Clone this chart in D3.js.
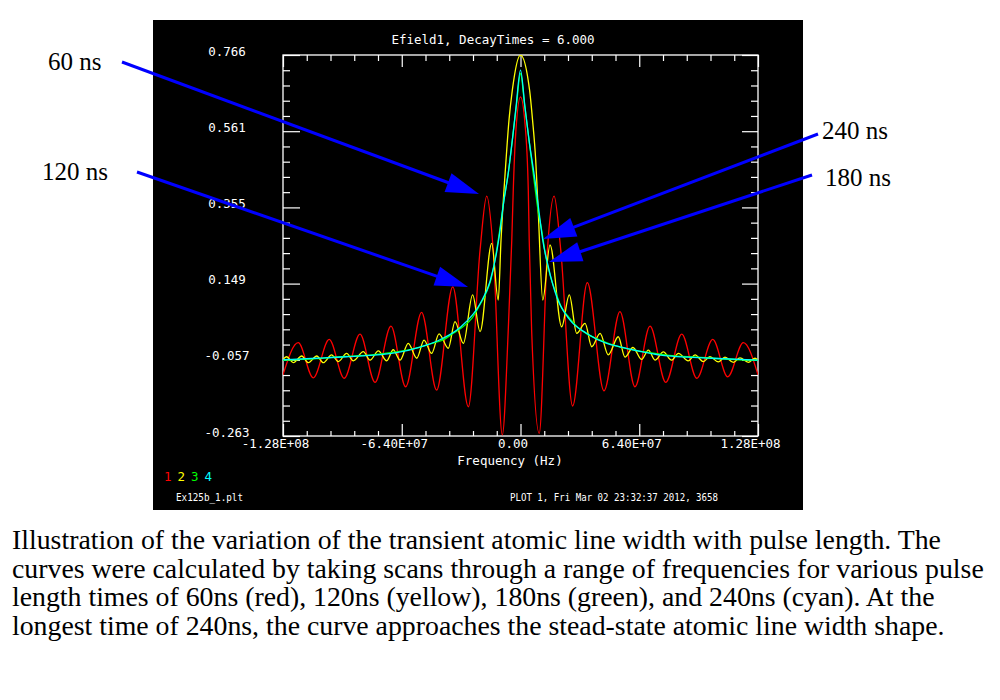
<!DOCTYPE html>
<html>
<head>
<meta charset="utf-8">
<script src="https://cdn.jsdelivr.net/npm/d3@7"></script>
<style>
  html, body { margin: 0; padding: 0; background: #ffffff; }
  svg { display: block; }
</style>
</head>
<body>
<svg id="chart" width="1000" height="700"></svg>
<script>
// ---------------- DATA ----------------
const chartTitle = "Efield1, DecayTimes = 6.000";
const xAxisTitle = "Frequency (Hz)";
const xTicks = [-1.28e8, -6.4e7, 0, 6.4e7, 1.28e8];
const xTickLabels = ["-1.28E+08", "-6.40E+07", "0.00", "6.40E+07", "1.28E+08"];
const yTicks = [0.766, 0.5602, 0.3544, 0.1486, -0.0572, -0.263];
const yTickLabels = ["0.766", "0.561", "0.355", "0.149", "-0.057", "-0.263"];
const legendLabels = ["1", "2", "3", "4"];
const seriesNames = ["60 ns", "120 ns", "180 ns", "240 ns"];
const seriesColors = ["#ff0000", "#ffff00", "#00ff00", "#00ffff"];
const footerLeft = "Ex125b_1.plt";
const footerRight = "PLOT 1, Fri Mar 02 23:32:37 2012, 3658";

// series 1: 60 ns (red) — frequency in MHz, field value
const redFreq = [-128.0, -119.8, -111.7, -103.1, -95.0, -86.5, -78.4, -69.8, -61.9, -53.3, -45.2, -36.5, -28.1,
  -21.8, -18.2, -14.7, -9.8, -6.6, -4.7, -3.9, -2.8, 0.0, 2.4, 4.2, 4.7, 6.0, 10.1,
  14.5, 18.1, 21.7, 28.1, 36.0, 45.0, 53.6, 61.7, 69.8, 78.3, 86.9, 95.0, 103.6, 111.7, 120.1, 128.0];
const redVal = [-0.098, -0.011, -0.106, -0.002, -0.107, 0.012, -0.118, 0.034, -0.130, 0.071, -0.139, 0.140, -0.184,
  0.239, 0.385, 0.239, -0.260, 0.023, 0.266, 0.401, 0.536, 0.653, 0.582, 0.401, 0.266, 0.023, -0.256,
  0.239, 0.385, 0.239, -0.182, 0.151, -0.141, 0.073, -0.130, 0.034, -0.118, 0.012, -0.107, -0.002, -0.103, -0.011, -0.098];

// series 2: 120 ns (yellow)
const yellowFreq = [-128.0, -126.0, -122.5, -117.9, -114.4, -109.8, -106.3, -101.8, -98.2, -93.7, -90.1, -84.7, -81.1,
  -76.6, -72.1, -68.6, -64.9, -60.5, -55.9, -52.0, -47.9, -43.9, -38.9, -35.3, -30.8, -25.8, -21.8, -15.5, -12.0,
  -10.5, -7.8, -6.2, -4.4, 0.0, 4.9, 6.5, 8.2, 9.6, 12.0, 15.9, 22.2, 26.3, 30.3, 34.8, 38.4, 42.9, 47.3, 52.7,
  56.3, 60.6, 65.3, 68.9, 72.5, 77.0, 81.4, 85.1, 90.4, 94.1, 98.5, 102.1, 106.6, 110.2, 114.7, 118.3, 122.8, 126.4, 128.0];
const yellowVal = [-0.056, -0.049, -0.065, -0.047, -0.065, -0.047, -0.065, -0.044, -0.062, -0.040, -0.060, -0.035, -0.058,
  -0.033, -0.060, -0.030, -0.058, -0.013, -0.053, -0.004, -0.040, 0.013, -0.026, 0.046, -0.013, 0.118, 0.019, 0.257, 0.104,
  0.266, 0.482, 0.590, 0.671, 0.766, 0.671, 0.590, 0.482, 0.338, 0.104, 0.253, 0.032, 0.118, 0.014, 0.041, -0.022, 0.014, -0.044, 0.005,
  -0.050, -0.024, -0.056, -0.031, -0.058, -0.036, -0.058, -0.040, -0.060, -0.044, -0.062, -0.049, -0.063, -0.050, -0.064, -0.052, -0.064, -0.053, -0.058];

// series 3: 180 ns (green)
const greenFreq = [-128, -110, -95, -80, -67, -55, -47, -42, -36, -31, -26, -22, -19, -16, -13.5, -11, -9, -6.5, -4.2, -2.2, 0,
  2.2, 4.5, 7.0, 9.5, 11.5, 13.5, 16, 19, 22, 26, 31, 36, 42, 48, 55, 67, 80, 95, 110, 128];
const greenVal = [-0.059, -0.054, -0.048, -0.044, -0.036, -0.024, -0.012, -0.004, 0.015, 0.032, 0.056, 0.090, 0.118, 0.158, 0.220, 0.300, 0.372, 0.450, 0.545, 0.630, 0.716,
  0.632, 0.540, 0.440, 0.345, 0.290, 0.225, 0.170, 0.125, 0.085, 0.058, 0.030, 0.012, -0.002, -0.014, -0.024, -0.036, -0.045, -0.050, -0.055, -0.059];

// series 4: 240 ns (cyan)
const cyanFreq = [-127.9, -110, -93.7, -66.7, -54.2, -43.4, -32.6, -21.8, -16.4, -12.8, -11.0, -9.3, -6.6, -4.4, -2.4, 0,
  2.4, 4.6, 7.8, 10.1, 12.0, 15.0, 19.5, 26.7, 35.7, 46.5, 53.6, 77.7, 90, 102.8, 128];
const cyanVal = [-0.057, -0.053, -0.049, -0.038, -0.023, -0.003, 0.030, 0.094, 0.155, 0.235, 0.293, 0.360, 0.447, 0.536, 0.626, 0.725,
  0.626, 0.536, 0.428, 0.338, 0.266, 0.194, 0.113, 0.050, 0.014, -0.013, -0.022, -0.046, -0.050, -0.053, -0.058];

// annotation labels and caption
const annLabels = ["60 ns", "120 ns", "240 ns", "180 ns"];
const captionLines = [
  "Illustration of the variation of the transient atomic line width with pulse length. The",
  "curves were calculated by taking scans through a range of frequencies for various pulse",
  "length times of 60ns (red), 120ns (yellow), 180ns (green), and 240ns (cyan). At the",
  "longest time of 240ns, the curve approaches the stead-state atomic line width shape."
];

// ---------------- LAYOUT ----------------
const svg = d3.select("#chart");
const panel = {x: 153, y: 20, w: 650, h: 490};
const plot = {l: 283, r: 758, t: 55, b: 436};
const monoFont = "'DejaVu Sans Mono', monospace";
const serifFont = "'Liberation Serif', 'Times New Roman', serif";

svg.append("rect").attr("x", panel.x).attr("y", panel.y).attr("width", panel.w).attr("height", panel.h).attr("fill", "#000");

const x = d3.scaleLinear().domain([-1.28e8, 1.28e8]).range([plot.l, plot.r]);
const y = d3.scaleLinear().domain([-0.263, 0.766]).range([plot.b, plot.t]);

svg.append("defs").append("clipPath").attr("id", "clip")
  .append("rect").attr("x", plot.l).attr("y", plot.t).attr("width", plot.r - plot.l).attr("height", plot.b - plot.t);

// minor tick values
const xMinor = d3.range(-1.28e8, 1.28e8 + 1, 1.28e7).filter(v => !xTicks.some(t => Math.abs(t - v) < 1));
const yMinor = [];
for (let i = 0; i < yTicks.length - 1; i++) {
  for (let k = 1; k < 5; k++) yMinor.push(yTicks[i + 1] + (yTicks[i] - yTicks[i + 1]) * k / 5);
}

function styleAxis(g) {
  g.select(".domain").remove();
  g.selectAll("line").attr("stroke", "#fff").attr("stroke-width", 1.2);
  g.attr("font-family", monoFont).attr("font-size", 12.5);
  g.selectAll("text").attr("fill", "#fff");
}

// bottom axis (major with labels)
svg.append("g").attr("transform", `translate(0,${plot.b})`)
  .call(d3.axisBottom(x).tickValues(xTicks).tickFormat((d, i) => xTickLabels[i]).tickSizeInner(-12).tickSizeOuter(0).tickPadding(3))
  .call(styleAxis)
  .call(g => g.selectAll("text").attr("dx", -8));
svg.append("g").attr("transform", `translate(0,${plot.b})`)
  .call(d3.axisBottom(x).tickValues(xMinor).tickFormat("").tickSizeInner(-5).tickSizeOuter(0))
  .call(styleAxis);
// top axis
svg.append("g").attr("transform", `translate(0,${plot.t})`)
  .call(d3.axisTop(x).tickValues(xTicks).tickFormat("").tickSizeInner(-12).tickSizeOuter(0))
  .call(styleAxis);
svg.append("g").attr("transform", `translate(0,${plot.t})`)
  .call(d3.axisTop(x).tickValues(xMinor).tickFormat("").tickSizeInner(-6).tickSizeOuter(0))
  .call(styleAxis);
// left axis
svg.append("g").attr("transform", `translate(${plot.l},0)`)
  .call(d3.axisLeft(y).tickValues(yTicks).tickFormat((d, i) => yTickLabels[i]).tickSizeInner(-17).tickSizeOuter(0))
  .call(styleAxis)
  .call(g => g.selectAll("text").attr("x", 227 - plot.l).attr("dy", 0).attr("text-anchor", "middle"));
svg.append("g").attr("transform", `translate(${plot.l},0)`)
  .call(d3.axisLeft(y).tickValues(yMinor).tickFormat("").tickSizeInner(-7).tickSizeOuter(0))
  .call(styleAxis);
// right axis
svg.append("g").attr("transform", `translate(${plot.r},0)`)
  .call(d3.axisRight(y).tickValues(yTicks).tickFormat("").tickSizeInner(-16).tickSizeOuter(0))
  .call(styleAxis);
svg.append("g").attr("transform", `translate(${plot.r},0)`)
  .call(d3.axisRight(y).tickValues(yMinor).tickFormat("").tickSizeInner(-7).tickSizeOuter(0))
  .call(styleAxis);

// frame
svg.append("rect").attr("x", plot.l).attr("y", plot.t).attr("width", plot.r - plot.l).attr("height", plot.b - plot.t)
  .attr("fill", "none").attr("stroke", "#fff").attr("stroke-width", 1.3);

// curves
const series = [
  {f: redFreq, v: redVal},
  {f: yellowFreq, v: yellowVal},
  {f: greenFreq, v: greenVal},
  {f: cyanFreq, v: cyanVal}
];
const line = d3.line().x(d => x(d[0] * 1e6)).y(d => y(d[1])).curve(d3.curveMonotoneX);
const curves = svg.append("g").attr("clip-path", "url(#clip)");
series.forEach((s, i) => {
  curves.append("path")
    .datum(s.f.map((f, j) => [f, s.v[j]]))
    .attr("fill", "none").attr("stroke", seriesColors[i]).attr("stroke-width", 1.3)
    .attr("d", line);
});

// texts in panel
svg.append("text").attr("x", 493).attr("y", 44).attr("text-anchor", "middle")
  .attr("font-family", monoFont).attr("font-size", 12.5).attr("fill", "#fff").text(chartTitle);
svg.append("text").attr("x", 510).attr("y", 465).attr("text-anchor", "middle")
  .attr("font-family", monoFont).attr("font-size", 12.5).attr("fill", "#fff").text(xAxisTitle);
svg.append("g").selectAll("text").data(legendLabels).join("text")
  .attr("x", (d, i) => 164 + i * 13.5).attr("y", 481)
  .attr("font-family", monoFont).attr("font-size", 12.5).attr("fill", (d, i) => seriesColors[i]).text(d => d);
svg.append("text").attr("x", 176).attr("y", 501)
  .attr("font-family", monoFont).attr("font-size", 11).attr("fill", "#fff")
  .attr("textLength", 67).attr("lengthAdjust", "spacingAndGlyphs").text(footerLeft);
svg.append("text").attr("x", 510).attr("y", 501)
  .attr("font-family", monoFont).attr("font-size", 11).attr("fill", "#fff")
  .attr("textLength", 208).attr("lengthAdjust", "spacingAndGlyphs").text(footerRight);

// annotation arrows
const arrows = [
  {label: annLabels[0], lx: 48, ly: 70, x1: 122, y1: 62, x2: 479, y2: 194},
  {label: annLabels[1], lx: 42, ly: 180, x1: 137, y1: 172, x2: 468, y2: 287},
  {label: annLabels[2], lx: 822, ly: 139, x1: 818, y1: 134, x2: 543, y2: 239},
  {label: annLabels[3], lx: 825, ly: 186, x1: 812, y1: 175, x2: 549, y2: 262}
];
const ag = svg.append("g");
arrows.forEach(a => {
  const dx = a.x2 - a.x1, dy = a.y2 - a.y1, L = Math.hypot(dx, dy);
  const ux = dx / L, uy = dy / L, hl = 33, hw = 10;
  const bx = a.x2 - ux * hl, by = a.y2 - uy * hl;
  ag.append("line").attr("x1", a.x1).attr("y1", a.y1).attr("x2", bx + ux * 2).attr("y2", by + uy * 2)
    .attr("stroke", "#0000ff").attr("stroke-width", 3);
  ag.append("path")
    .attr("d", `M${a.x2},${a.y2}L${bx - uy * hw},${by + ux * hw}L${bx + uy * hw},${by - ux * hw}Z`)
    .attr("fill", "#0000ff");
  ag.append("text").attr("x", a.lx).attr("y", a.ly)
    .attr("font-family", serifFont).attr("font-size", 25).attr("fill", "#000").text(a.label);
});

// caption
svg.append("g").selectAll("text").data(captionLines).join("text")
  .attr("x", 12).attr("y", (d, i) => 549 + i * 28.5)
  .attr("font-family", serifFont).attr("font-size", 27.8).attr("fill", "#000").text(d => d);
</script>
</body>
</html>
